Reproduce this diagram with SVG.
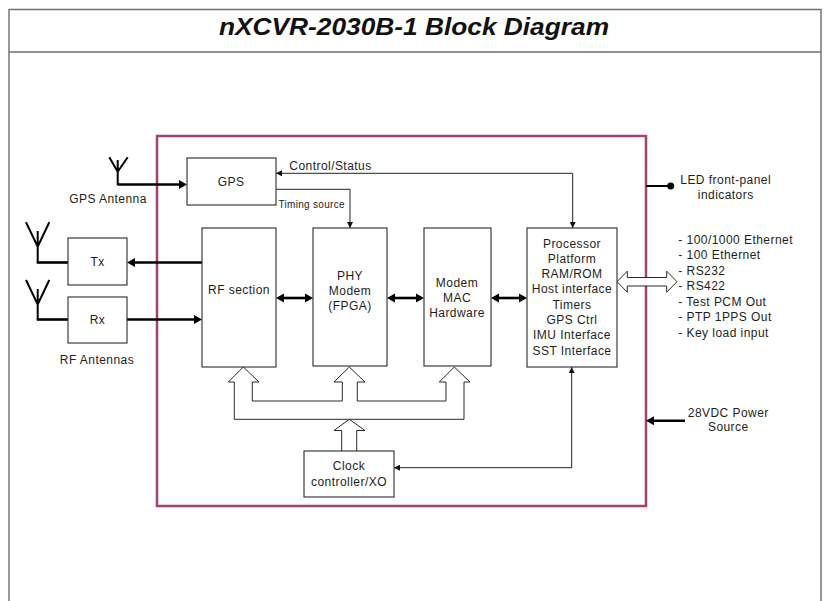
<svg xmlns="http://www.w3.org/2000/svg" width="826" height="601" viewBox="0 0 826 601">
<defs>
<style>
.frame{fill:none;stroke:#6e6e6e;stroke-width:1.4}
.plum{fill:none;stroke:#a3416f;stroke-width:2.5}
.box{fill:#fff;stroke:#2a2a2a;stroke-width:1.1}
.hollow{fill:#fff;stroke:#2a2a2a;stroke-width:1}
.thick{fill:none;stroke:#000;stroke-width:2.6}
.ant{fill:none;stroke:#000;stroke-width:2}
.thin{fill:none;stroke:#222;stroke-width:1}
text{font-family:"Liberation Sans",Arial,sans-serif;font-size:12px;fill:#1e1e1e;letter-spacing:0.45px}
.c{text-anchor:middle}
.small{font-size:10px;letter-spacing:0.3px}
.title{font-size:24px;font-weight:bold;font-style:italic;letter-spacing:0;fill:#111}
</style>
<marker id="big" markerUnits="userSpaceOnUse" markerWidth="9" markerHeight="10" refX="5" refY="4.5" orient="auto-start-reverse" viewBox="0 0 9 9">
<path d="M0,0 L8,4.5 L0,9 Z" fill="#000"/>
</marker>
<marker id="sm" markerUnits="userSpaceOnUse" markerWidth="6" markerHeight="6" refX="5" refY="2.5" orient="auto-start-reverse" viewBox="0 0 5 5">
<path d="M0,0 L5,2.5 L0,5 Z" fill="#111"/>
</marker>
</defs>
<rect width="826" height="601" fill="#fff"/>

<g id="page-frame">
<path class="frame" d="M9,601 V9.5 H821 V601"/>
<line class="frame" x1="9" y1="52" x2="821" y2="52"/>
<text class="title c" x="414" y="35" textLength="390" lengthAdjust="spacingAndGlyphs">nXCVR-2030B-1 Block Diagram</text>
</g>

<g id="enclosure">
<rect class="plum" x="157" y="136" width="489" height="370"/>
</g>

<g id="connectors">
<path class="thick" d="M117.3,184.5 H184"/>
<path class="thick" d="M202,262.5 H130"/>
<path class="thick" d="M127,319.5 H199"/>
<path class="thick" marker-start="url(#big)" marker-end="url(#big)" d="M279,298 H310"/>
<path class="thick" marker-start="url(#big)" marker-end="url(#big)" d="M390,298 H421"/>
<path class="thick" marker-start="url(#big)" marker-end="url(#big)" d="M494,298 H524"/>
<path class="thick" marker-end="url(#big)" d="M685,420.7 H649"/>
<path class="thin" marker-start="url(#sm)" marker-end="url(#sm)" d="M572.7,228 V173.3 H276"/>
<path class="thin" marker-end="url(#sm)" d="M276,189.3 H350 V228"/>
<path class="thin" marker-start="url(#sm)" marker-end="url(#sm)" d="M571.7,367 V467.7 H394"/>
<path class="ant" d="M646,186 H670.7" stroke-width="2.2"/>
<circle cx="670.7" cy="186" r="3.5" fill="#000"/>
<polygon class="hollow" points="617,281.7 627.3,271.2 627.3,277.5 666.7,277.5 666.7,271.2 677,281.7 666.7,292.2 666.7,286 627.3,286 627.3,292.2"/>
<path class="hollow" d="M228.3,382 L243.3,367 L259,382 L252.3,382 L252.3,401 L342.3,401 L342.3,382 L334,382 L349.3,367 L365,382 L357.3,382 L357.3,401 L446,401 L446,382 L439.3,382 L454.3,367 L470,382 L464,382 L464,419.3 L234.3,419.3 L234.3,382 Z"/>
<path class="hollow" d="M341.7,451 V430.5 H334 L349.3,419.3 L365,430.5 H356.7 V451"/>
</g>
<g id="arrowheads-thick">
<path d="M187,184.5 L179,180 L179,189 Z" fill="#000"/>
<path d="M127,262.5 L135,258 L135,267 Z" fill="#000"/>
<path d="M202,319.5 L194,315 L194,324 Z" fill="#000"/>
</g>

<g id="gps-antenna">
<path class="ant" d="M109.3,157.3 L117.7,171.7 L127.7,157.3 M117.7,160 V185"/>
<text class="c" x="108" y="203">GPS Antenna</text>
</g>
<g id="tx-antenna">
<path class="ant" d="M26,222.3 L37.7,246.7 L49.3,222.3 M37.7,231 V262.5"/>
<path class="thick" d="M36.7,262.5 H68" stroke-width="3.2"/>
</g>
<g id="rx-antenna">
<path class="ant" d="M26,280 L37.7,304.5 L49.3,280 M37.7,289 V319.5"/>
<path class="thick" d="M36.7,319.5 H68" stroke-width="3.2"/>
<text class="c" x="97" y="364">RF Antennas</text>
</g>

<g id="gps">
<rect class="box" x="187" y="158" width="89" height="47"/>
<text class="c" x="231" y="186">GPS</text>
</g>
<g id="tx">
<rect class="box" x="68" y="238" width="59" height="47"/>
<text class="c" x="97.5" y="266">Tx</text>
</g>
<g id="rx">
<rect class="box" x="68" y="297" width="59" height="46"/>
<text class="c" x="97.5" y="324">Rx</text>
</g>
<g id="rf-section">
<rect class="box" x="202" y="228" width="74" height="139"/>
<text class="c" x="239" y="294">RF section</text>
</g>
<g id="phy-modem">
<rect class="box" x="313" y="228" width="74" height="138"/>
<text class="c" x="350" y="280">PHY</text>
<text class="c" x="350" y="294.5">Modem</text>
<text class="c" x="350" y="309.5">(FPGA)</text>
</g>
<g id="modem-mac">
<rect class="box" x="424" y="228" width="67" height="138"/>
<text class="c" x="457" y="286.5">Modem</text>
<text class="c" x="457" y="302">MAC</text>
<text class="c" x="457" y="317">Hardware</text>
</g>
<g id="processor">
<rect class="box" x="527" y="228" width="90" height="139"/>
<text class="c" x="572" y="247.5">Processor</text>
<text class="c" x="572" y="262.8">Platform</text>
<text class="c" x="572" y="278.1">RAM/ROM</text>
<text class="c" x="572" y="293.4">Host interface</text>
<text class="c" x="572" y="308.7">Timers</text>
<text class="c" x="572" y="324">GPS Ctrl</text>
<text class="c" x="572" y="339.3">IMU Interface</text>
<text class="c" x="572" y="354.6">SST Interface</text>
</g>
<g id="clock">
<rect class="box" x="304" y="451" width="90" height="46"/>
<text class="c" x="349" y="470">Clock</text>
<text class="c" x="349" y="486">controller/XO</text>
</g>

<g id="labels">
<text x="289.3" y="170">Control/Status</text>
<text class="small" x="278.5" y="208">Timing source</text>
<text class="c" x="725.7" y="183.5">LED front-panel</text>
<text class="c" x="725.7" y="198.5">indicators</text>
<text class="c" x="728.3" y="417">28VDC Power</text>
<text class="c" x="728.3" y="431">Source</text>
<text x="678.3" y="243.5">- 100/1000 Ethernet</text>
<text x="678.3" y="259">- 100 Ethernet</text>
<text x="678.3" y="274.5">- RS232</text>
<text x="678.3" y="290">- RS422</text>
<text x="678.3" y="305.5">- Test PCM Out</text>
<text x="678.3" y="321">- PTP 1PPS Out</text>
<text x="678.3" y="336.5">- Key load input</text>
</g>
</svg>
